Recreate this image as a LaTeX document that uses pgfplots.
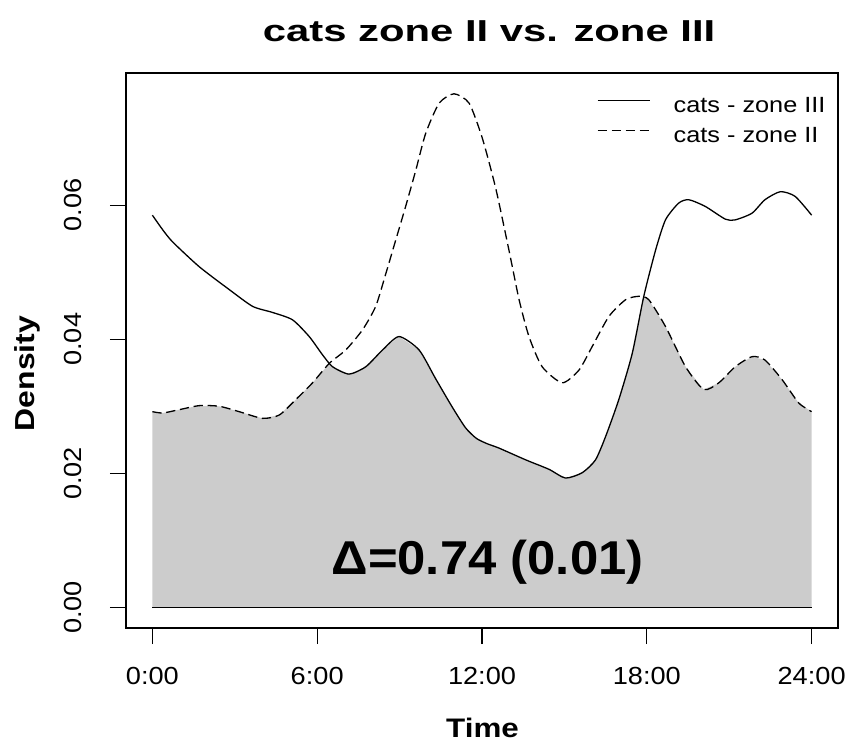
\documentclass[border=0pt]{standalone}
\usepackage{fontspec}
\setmainfont{Liberation Sans}
\usepackage{graphicx}
\usepackage{pgfplots}
\pgfplotsset{compat=1.18}
\begin{document}
\begin{tikzpicture}[x=1pt,y=1pt]
\path[use as bounding box] (-126,-116) rectangle (725,628);
\begin{axis}[
  at={(0,0)}, anchor=south west,
  scale only axis, width=712pt, height=555pt,
  xmin=-0.96, xmax=24.96, ymin=-0.00306, ymax=0.0797,
  axis line style={line width=1.4pt},
  tick pos=left, tick align=outside,
  major tick length=16pt,
  tick style={line width=1.2pt, black},
  scaled y ticks=false,
  xtick={0,6,12,18,24},
  xticklabels={\scalebox{1.1}[1]{0:00},\scalebox{1.1}[1]{6:00},\scalebox{1.1}[1]{12:00},\scalebox{1.1}[1]{18:00},\scalebox{1.1}[1]{24:00}},
  ytick={0,0.02,0.04,0.06},
  yticklabels={\scalebox{1.1}[1]{0.00},\scalebox{1.1}[1]{0.02},\scalebox{1.1}[1]{0.04},\scalebox{1.1}[1]{0.06}},
  xticklabel style={font=\fontsize{24.7}{28}\selectfont, anchor=base},
  yticklabel style={font=\fontsize{24.7}{28}\selectfont, rotate=90, anchor=base},
  xticklabel shift=40pt,
  yticklabel shift=28pt,
  title={\scalebox{1.38}[1]{cats zone II vs. zone III}},
  title style={font=\fontsize{30.3}{34}\selectfont\bfseries, at={(axis description cs:0.51,1.0456)}, anchor=base},
  xlabel={\scalebox{1.17}[1]{Time}},
  xlabel style={font=\fontsize{26.8}{30}\selectfont\bfseries, at={(axis description cs:0.5007,-0.198)}, anchor=base},
  ylabel={\scalebox{1.16}[1]{Density}},
  ylabel style={font=\fontsize{27.5}{30}\selectfont\bfseries, at={(axis description cs:-0.1278,0.4586)}, anchor=base, rotate=0},
  legend style={draw=none, fill=none, at={(axis description cs:0.6615,0.9564)}, anchor=north west,
    font=\fontsize{22}{24}\selectfont, inner sep=0pt, outer sep=0pt,
    nodes={inner sep=0pt, outer sep=0pt, text height=15.8pt, text depth=4.5pt},
    row sep=9.2pt, column sep=0pt,
    /tikz/every even column/.append style={column sep=0pt}},
  legend cell align=left,
  legend image code/.code={\draw[#1] (0pt,6.5pt) -- (52.6pt,6.5pt); \path[draw=none,fill=none] (0pt,6.5pt) -- (76pt,6.5pt);},
]
% overlap area (minimum of the two densities)
\addplot[draw=none, fill=black!20, forget plot] coordinates {
(0,0.0292) (0.38,0.0290) (0.98,0.0295) (1.71,0.0301) (2.44,0.0300) (3.16,0.0292) (4.01,0.0282) (4.62,0.0287) (5.22,0.0310) (5.83,0.0335) (6.45,0.0364)
(6.56,0.0359) (7.16,0.0348) (7.77,0.0359) (8.38,0.0384) (8.98,0.0404) (9.71,0.0384) (10.3,0.0342) (10.9,0.0300) (11.4,0.0268) (11.8,0.0252) (12.2,0.0244) (12.6,0.0238) (13.6,0.0220) (14.44,0.0206) (15.04,0.0193) (15.65,0.0201) (16.13,0.0220) (16.5,0.0255) (16.98,0.0310) (17.47,0.0379) (17.9,0.0463)
(18.07,0.0459) (18.68,0.0419) (19.41,0.0359) (20.07,0.0325) (20.62,0.0335) (21.22,0.0359) (21.83,0.0374) (22.3,0.0369) (22.92,0.0340) (23.53,0.0305) (24,0.0292)
} \closedcycle;
% zone III (solid)
\addplot[black, line width=1.3pt, smooth, tension=0.4] coordinates {
(0,0.0585) (0.38,0.0563) (0.74,0.0545) (1.71,0.0508) (2.8,0.0474) (3.65,0.0449) (4.37,0.0440) (5.1,0.0429) (5.71,0.0404) (6.19,0.0377) (6.56,0.0359) (7.16,0.0348) (7.77,0.0359) (8.38,0.0384) (8.98,0.0404) (9.71,0.0384) (10.3,0.0342) (10.9,0.0300) (11.4,0.0268) (11.8,0.0252) (12.2,0.0244) (12.6,0.0238) (13.6,0.0220) (14.44,0.0206) (15.04,0.0193) (15.65,0.0201) (16.13,0.0220) (16.5,0.0255) (16.98,0.0310) (17.47,0.0379) (17.89,0.0464) (18.32,0.0533) (18.68,0.0578) (19.16,0.0603) (19.53,0.0608) (20.13,0.0598) (20.86,0.0579) (21.22,0.0578) (21.83,0.0588) (22.3,0.0608) (22.86,0.0620) (23.4,0.0613) (24,0.0585)
};
\addlegendentry{\scalebox{1.15}[1]{cats - zone III}}
% zone II (dashed)
\addplot[black, line width=1.3pt, dash pattern=on 9.3pt off 4.7pt, smooth, tension=0.4] coordinates {
(0,0.0292) (0.38,0.0290) (0.98,0.0295) (1.71,0.0301) (2.44,0.0300) (3.16,0.0292) (4.01,0.0282) (4.62,0.0287) (5.22,0.0310) (5.83,0.0335) (6.44,0.0364) (7.04,0.0384) (7.65,0.0414) (8.13,0.0449) (8.5,0.0498) (8.86,0.0548) (9.22,0.0598) (9.59,0.0652) (9.95,0.0707) (10.44,0.0752) (10.98,0.0766) (11.53,0.0752) (12.01,0.0700) (12.5,0.0625) (12.98,0.0533) (13.35,0.0459) (13.71,0.0404) (14.19,0.0359) (14.92,0.0335) (15.53,0.0354) (16.01,0.0389) (16.62,0.0434) (17.23,0.0459) (17.71,0.0464) (18.07,0.0459) (18.68,0.0419) (19.41,0.0359) (20.07,0.0325) (20.62,0.0335) (21.22,0.0359) (21.83,0.0374) (22.3,0.0369) (22.92,0.0340) (23.53,0.0305) (24,0.0292)
};
\addlegendentry{\scalebox{1.15}[1]{cats - zone II}}
% baseline at zero
\addplot[black, line width=1.3pt, forget plot] coordinates {(0,0) (24,0)};
\node[anchor=base, font=\fontsize{47.5}{50}\selectfont\bfseries] at (axis cs:12.2,0.0049) {\scalebox{1.07}[1]{Δ=0.74 (0.01)}};
\end{axis}
\end{tikzpicture}
\end{document}
